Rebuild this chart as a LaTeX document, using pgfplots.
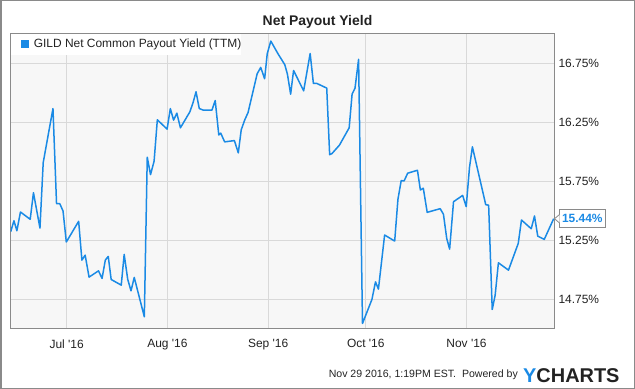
\documentclass[border=0pt]{standalone}
\usepackage{fontspec}
\setmainfont{Liberation Sans}[Ligatures=TeXOff]
\usepackage{pgfplots}
\pgfplotsset{compat=1.18}
\definecolor{ycblue}{HTML}{1A8AE5}
\definecolor{plotbg}{HTML}{F7F7F7}
\definecolor{gridc}{HTML}{D9D9D9}
\definecolor{framec}{HTML}{8A8A8A}
\definecolor{txt}{HTML}{222222}
\begin{document}
\begin{tikzpicture}
\useasboundingbox (0bp,0bp) rectangle (635bp,389bp);
\draw[framec, line width=1.5bp] (0.75bp,0.75bp) rectangle (634.25bp,388.25bp);
\node[font=\bfseries\fontsize{14}{16}\selectfont, text=txt] at (317.5bp,367bp) {Net Payout Yield};
\begin{axis}[
  at={(10.7bp,60bp)}, anchor=south west,
  scale only axis, width=543.3bp, height=295.5bp,
  xmin=-17.2, xmax=149.9, ymin=14.5, ymax=17.0,
  axis background/.style={fill=plotbg},
  axis line style={framec, line width=1bp},
  grid=major, major grid style={gridc, line width=1bp},
  xtick={0,31,62,92,123},
  xticklabels={Jul '16, Aug '16, Sep '16, Oct '16, Nov '16},
  ytick={14.75,15.25,15.75,16.25,16.75},
  yticklabels={14.75\%,15.25\%,15.75\%,16.25\%,16.75\%},
  yticklabel pos=right,
  /pgf/number format/assume math mode=true,
  major tick length=0pt,
  tick label style={font=\fontsize{12}{14}\selectfont, text=txt},
  xticklabel style={yshift=-7bp},
  yticklabel style={xshift=1bp},
  legend style={at={(0,1)}, anchor=north west, draw=none, fill=white,
    font=\fontsize{12}{14}\selectfont, text=txt,
    inner xsep=0bp, inner ysep=5.5bp, nodes={inner sep=0bp}},
  legend cell align=left,
  legend image code/.code={\path[draw=none,fill=none] (-10.3bp,0bp) -- (12.6bp,0bp);\fill[ycblue, draw=none] (0bp,-4bp) rectangle (8bp,4bp);},
]
\addplot[ycblue, line width=1.5bp, line join=round] table {
-17.2 15.323
-16.2 15.416
-15.3 15.331
-14.2 15.490
-11.2 15.428
-10.2 15.653
-8.2 15.354
-7.2 15.908
-4.2 16.365
-3.1 15.560
-2.1 15.560
-1.1 15.498
-0.1 15.236
3.7 15.411
4.7 15.083
5.7 15.125
6.9 14.939
9.8 14.992
10.9 14.928
11.9 15.083
12.8 15.114
13.7 14.919
16.8 14.871
17.7 15.131
18.8 14.919
19.8 14.823
20.8 14.936
23.9 14.603
24.8 15.953
25.8 15.806
26.9 15.919
27.9 16.270
30.9 16.191
31.9 16.365
32.9 16.267
33.9 16.326
35.0 16.202
37.9 16.337
38.9 16.416
39.8 16.507
40.8 16.365
42.0 16.352
44.7 16.352
45.7 16.433
46.8 16.142
47.4 16.157
48.6 16.083
51.6 16.094
52.8 15.990
53.7 16.185
54.8 16.270
55.8 16.331
58.6 16.659
59.7 16.713
60.9 16.617
61.7 16.829
62.8 16.936
65.0 16.829
67.1 16.736
67.9 16.657
68.9 16.487
69.8 16.687
72.9 16.515
74.9 16.831
75.9 16.577
77.0 16.577
80.0 16.538
80.9 15.975
81.6 15.984
83.9 16.055
86.9 16.202
87.8 16.487
88.7 16.538
89.8 16.781
91.0 14.547
93.9 14.750
95.0 14.899
95.9 14.837
97.8 15.295
100.9 15.244
101.9 15.597
102.9 15.755
103.8 15.753
104.9 15.818
107.9 15.843
108.8 15.676
109.7 15.691
110.9 15.487
114.9 15.518
115.9 15.470
116.9 15.267
117.8 15.176
119.0 15.577
121.8 15.630
122.9 15.535
123.9 15.865
124.8 16.041
128.9 15.552
129.8 15.547
130.9 14.665
131.8 14.786
132.8 15.060
135.9 14.998
138.9 15.224
139.9 15.422
142.9 15.348
143.9 15.456
144.9 15.286
146.9 15.258
149.8 15.433
};
\addlegendentry{GILD Net Common Payout Yield (TTM)\hspace{10bp}}
\coordinate (endpt) at (axis cs:149.8,15.433);
\end{axis}
\node[draw=framec, fill=white, anchor=west, inner xsep=2.4bp, inner ysep=0bp,
  minimum height=18bp, font=\bfseries\fontsize{12}{14}\selectfont, text=ycblue,
  line width=0.8bp] (lab) at ([xshift=5.6bp]endpt) {15.44\%};
\fill[white] ([yshift=4bp,xshift=0.4bp]lab.west) -- ([xshift=0.8bp]endpt) -- ([yshift=-4bp,xshift=0.4bp]lab.west) -- cycle;
\draw[framec, line width=0.8bp] ([yshift=4bp]lab.west) -- ([xshift=0.8bp]endpt) -- ([yshift=-4bp]lab.west);
\node[anchor=base east, font=\fontsize{10.6}{13}\selectfont, text=txt, inner sep=0pt] at (518bp,12bp) {Nov 29 2016, 1:19PM EST.\ \ Powered by};
\node[anchor=base west, font=\bfseries\fontsize{20}{22}\selectfont, inner sep=0pt, text=txt] at (523bp,7bp) {\textcolor{ycblue}{Y}CHARTS};
\end{tikzpicture}
\end{document}
